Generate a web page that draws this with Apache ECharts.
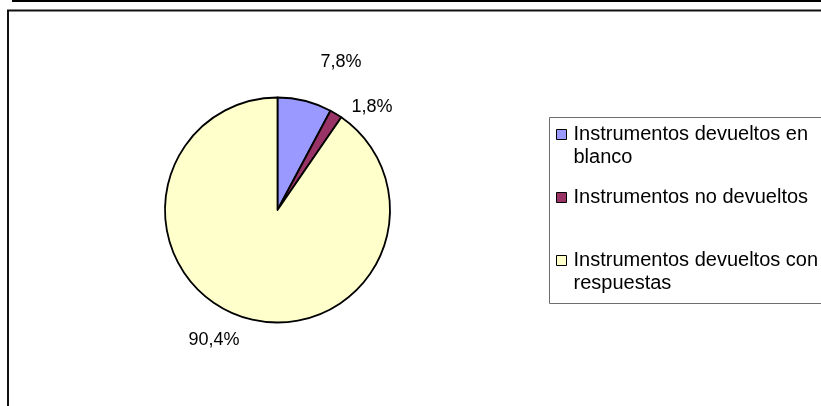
<!DOCTYPE html>
<html>
<head>
<meta charset="utf-8">
<script src="https://cdn.jsdelivr.net/npm/echarts@6/dist/echarts.min.js"></script>
<style>
html,body{margin:0;padding:0;background:#fff;}
#c{width:821px;height:406px;}
</style>
</head>
<body>
<div id="c"></div>
<script>
var categories = ['Instrumentos devueltos en blanco', 'Instrumentos no devueltos', 'Instrumentos devueltos con respuestas'];
var legendLines = [['Instrumentos devueltos en', 'blanco'], ['Instrumentos no devueltos', ' '], ['Instrumentos devueltos con', 'respuestas']];
var values = [7.8, 1.8, 90.4];
var labels = ['7,8%', '1,8%', '90,4%'];
var colors = ['#9999FF', '#993366', '#FFFFCC'];
var labelPos = [[341, 62], [372, 107], [214, 340]];

var chart = echarts.init(document.getElementById('c'));
var data = categories.map(function (n, i) {
  return { name: n, value: values[i], itemStyle: { color: colors[i] } };
});
var font = 'Liberation Sans, Arial, sans-serif';
chart.setOption({
  animation: false,
  backgroundColor: '#fff',
  graphic: [
    { type: 'rect', shape: { x: 12, y: 0, width: 820, height: 2 }, style: { fill: '#000' } },
    { type: 'polyline', shape: { points: [[8, 420], [8, 10.5], [830, 10.5]] }, style: { stroke: '#111', lineWidth: 2, fill: null } },
    { type: 'rect', shape: { x: 549.5, y: 117.5, width: 300, height: 186 }, style: { stroke: '#6e6e6e', lineWidth: 1, fill: '#fff' }, z: -1 }
  ],
  legend: {
    orient: 'vertical',
    left: 556,
    top: 100,
    padding: 0,
    itemWidth: 14,
    itemHeight: 10,
    itemGap: -6,
    icon: 'path://M0,0h10v10h-10z',
    itemStyle: { borderColor: '#000', borderWidth: 1 },
    textStyle: { fontFamily: font, fontSize: 20, lineHeight: 23, color: '#000' },
    formatter: function (name) {
      var i = categories.indexOf(name);
      return ' \n' + legendLines[i][0] + '\n' + legendLines[i][1];
    },
    data: categories
  },
  series: [{
    type: 'pie',
    center: [277.5, 210],
    radius: [0, 112.5],
    startAngle: 90,
    clockwise: true,
    data: data,
    itemStyle: { borderColor: '#000', borderWidth: 1.8 },
    label: {
      show: true,
      position: 'outside',
      fontFamily: font,
      fontSize: 18,
      color: '#000',
      formatter: function (p) { return labels[p.dataIndex]; }
    },
    labelLine: { show: false },
    labelLayout: function (p) {
      var pos = labelPos[p.dataIndex];
      return { x: pos[0], y: pos[1], align: 'center', verticalAlign: 'middle', hideOverlap: false, moveOverlap: null };
    },
    emphasis: { disabled: true }
  }]
});
</script>
</body>
</html>
